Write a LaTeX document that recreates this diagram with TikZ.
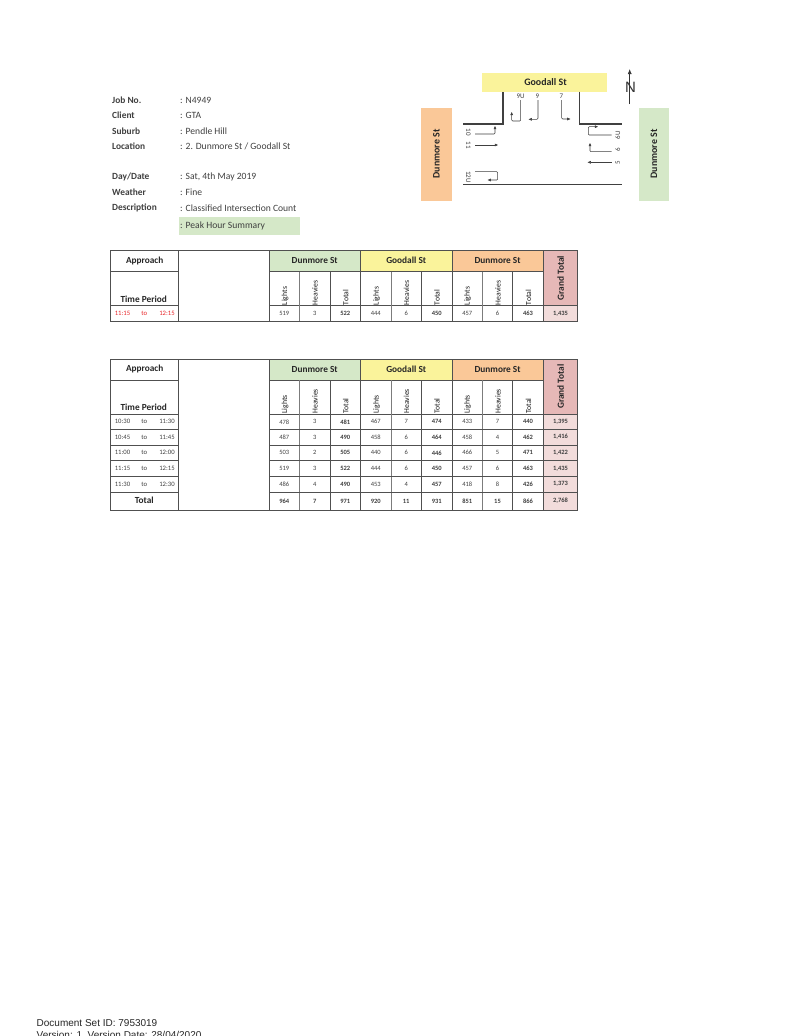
\documentclass[tikz,border=0pt]{standalone}
\usepackage{fontspec}
\setmainfont{Carlito}
\newfontfamily\docfont{Liberation Sans}
\usetikzlibrary{arrows.meta}
\definecolor{cgreen}{HTML}{D5E8C8}
\definecolor{cyellow}{HTML}{FAF39B}
\definecolor{corange}{HTML}{FAC898}
\definecolor{cpink}{HTML}{E6B8B7}
\definecolor{clpink}{HTML}{F2DCDB}
\definecolor{cgrid}{HTML}{505050}
\definecolor{ctext}{HTML}{404040}
\definecolor{cred}{HTML}{E8262A}
\tikzset{
  x=1pt,y=-1pt,
  info/.style={font=\fontsize{9.6}{10}\selectfont,text=ctext,anchor=west,inner sep=0pt},
  infob/.style={font=\fontsize{9.4}{10}\selectfont\bfseries,text=ctext,anchor=west,inner sep=0pt},
  head/.style={font=\fontsize{9.3}{10}\selectfont\bfseries,text=black!85,inner sep=0pt},
  headlarge/.style={font=\fontsize{9.9}{10}\selectfont\bfseries,text=black!85,inner sep=0pt},
  sub/.style={font=\fontsize{7.7}{8}\selectfont,text=black!90,rotate=90,anchor=west,inner sep=0pt},
  val/.style={font=\fontsize{6.5}{7}\selectfont,text=ctext,inner sep=0pt},
  valb/.style={font=\fontsize{6.5}{7}\selectfont\bfseries,text=ctext,inner sep=0pt},
  timetxt/.style={font=\fontsize{6.7}{7}\selectfont,text=ctext,inner sep=0pt},
  road/.style={draw=black!75,line width=1.4pt},
  mv/.style={draw=black!75,line width=0.55pt,rounded corners=1pt,-{Latex[length=3.5pt,width=3pt]}},
  lane/.style={font=\fontsize{7}{7}\selectfont,text=ctext,inner sep=0pt},
  gridthick/.style={draw=cgrid,line width=1pt},
  gridthin/.style={draw=cgrid!75,line width=0.7pt},
  vs1/.style={val},vs2/.style={val},vs3/.style={valb},
  vs4/.style={val},vs5/.style={val},vs6/.style={valb},
  vs7/.style={val},vs8/.style={val},vs9/.style={valb},vs10/.style={valb},
  plain/.style={},
}
\newcommand{\inforow}[4]{%
  \node[infob] (lab#1) at (112,#2) {#3};
  \node[info] (txt#1) at (180,#2) {#4};}
% prefix, y top
\newcommand{\tablehead}[2]{%
  \fill[cgreen] (269,#2) rectangle (360.5,#2+21);
  \fill[cyellow] (360.5,#2) rectangle (452,#2+21);
  \fill[corange] (452,#2) rectangle (543.3,#2+21);
  \fill[cpink] (543.3,#2) rectangle (577.7,#2+55);
  \node[head] (#1appr) at (144.7,#2+10) {Approach};
  \node[head] (#1time) at (143.7,#2+48.3) {Time Period};
  \node[head] (#1d1) at (314.7,#2+10) {Dunmore St};
  \node[head] (#1g) at (406.2,#2+10) {Goodall St};
  \node[head] (#1d2) at (497.6,#2+10) {Dunmore St};
  \node[head,rotate=90] (#1gt) at (560.7,#2+27.5) {Grand Total};
  \foreach \sx/\st/\k in {285/Lights/a,315/Heavies/b,345.7/Total/c,376.5/Lights/d,406.5/Heavies/e,437/Total/f,467.5/Lights/g,498/Heavies/h,528.5/Total/i}
    \node[sub] (#1s\k) at (\sx,#2+54.5) {\st};
}
% prefix, y centre, extra style, values
\newcommand{\datarow}[4]{%
  \foreach \v [count=\i] in {#4} {
    \pgfmathsetmacro{\cx}{{284.2,314.7,345.2,375.7,406.2,436.7,467.2,497.5,528,560.5}[\i-1]}
    \node[vs\i,#3] (#1c\i) at (\cx,#2) {\v};
  }}
\newcommand{\timerow}[5]{%
  \node[timetxt,#5] (#1t1) at (122.5,#2) {#3};
  \node[timetxt,#5] (#1t2) at (144.3,#2) {to};
  \node[timetxt,#5] (#1t3) at (167,#2) {#4};}
% y top, y header bottom, y bottom
\newcommand{\tablegrid}[3]{%
  \draw[gridthick] (110,#1) rectangle (577.7,#3);
  \draw[gridthick] (178,#1) -- (178,#3);
  \draw[gridthick] (269,#1) -- (269,#3);
  \draw[gridthick] (543.3,#1) -- (543.3,#3);
  \draw[gridthick] (360.5,#1) -- (360.5,#3);
  \draw[gridthick] (452,#1) -- (452,#3);
  \draw[gridthick] (110,#1+21) -- (178,#1+21);
  \draw[gridthick] (269,#1+21) -- (543.3,#1+21);
  \draw[gridthick] (110,#2) -- (178,#2);
  \draw[gridthick] (269,#2) -- (577.7,#2);
  \foreach \gx in {330,421.5,512.7} \draw[gridthick] (\gx,#1+21) -- (\gx,#3);
  \foreach \gx in {299.5,391,482.3} \draw[gridthin] (\gx,#1+21) -- (\gx,#3);
}
\begin{document}
\begin{tikzpicture}
\useasboundingbox (0,0) rectangle (796,1036);
\clip (0,0) rectangle (796,1036);
\fill[white] (0,0) rectangle (796,1036);
% info block
\fill[cgreen] (178.5,217) rectangle (299.5,235);
\inforow{a}{100}{Job No.}{: N4949}
\inforow{b}{115.5}{Client}{: GTA}
\inforow{c}{131}{Suburb}{: Pendle Hill}
\inforow{d}{146.5}{Location}{: 2. Dunmore St / Goodall St}
\inforow{e}{177}{Day/Date}{: Sat, 4th May 2019}
\inforow{f}{192.5}{Weather}{: Fine}
\inforow{g}{208}{Description}{: Classified Intersection Count}
\node[info] (txth) at (180,226) {: Peak Hour Summary};
% diagram
\fill[cyellow] (482.3,73.3) rectangle (607.3,91.7);
\node[headlarge] (goodall) at (545.5,82.5) {Goodall St};
\fill[corange] (421.3,107.7) rectangle (451.7,200.5);
\node[headlarge,rotate=90] (dunw) at (436.5,154) {Dunmore St};
\fill[cgreen] (638.7,108) rectangle (669,200.5);
\node[headlarge,rotate=90] (dune) at (654,154) {Dunmore St};
\draw[road] (463.3,124) -- (503,124) -- (503,91.7);
\draw[road] (579.3,91.7) -- (579.3,124) -- (621.7,124);
\draw[road] (463.3,184.3) -- (621.7,184.3);
% north
\coordinate (ns) at (629.7,104);
\coordinate (nn) at (629.7,69);
\draw[draw=black!80,line width=0.7pt,-{Latex[length=5pt,width=4pt]}] (ns) -- (nn);
\node[font=\fontsize{15}{15}\selectfont\docfont,text=black!80,inner sep=0pt] (north) at (630.5,87) {N};
% lane labels
\node[lane] (l9u) at (520.7,96) {9U};
\node[lane] (l9) at (537.5,96) {9};
\node[lane] (l7) at (561.5,96) {7};
\node[lane,rotate=-90] (l10) at (468.3,132) {10};
\node[lane,rotate=-90] (l11) at (468.3,145) {11};
\node[lane,rotate=-90] (l12u) at (468.3,177) {12U};
\node[lane,rotate=90] (l6u) at (617.7,135) {6U};
\node[lane,rotate=90] (l6) at (617.7,150) {6};
\node[lane,rotate=90] (l5) at (617.7,162.3) {5};
% movement ends
\coordinate (e9u) at (511.7,111.7);
\coordinate (e9) at (528.3,119.3);
\coordinate (e7) at (570.7,119);
\coordinate (e10) at (495,125.7);
\coordinate (e11) at (498.3,145);
\coordinate (e12u) at (487.3,180);
\coordinate (e6u) at (598.3,126.7);
\coordinate (e6) at (590,142.7);
\coordinate (e5) at (587.3,162.3);
\draw[mv] (520.7,100) -- (520.7,121) -- (511.7,121) -- (e9u);
\draw[mv] (538,100) -- (538,119.3) -- (e9);
\draw[mv] (561.7,100) -- (561.7,119) -- (e7);
\draw[mv] (475,134) -- (495,134) -- (e10);
\draw[mv] (475,145) -- (e11);
\draw[mv] (475,171.7) -- (497.7,171.7) -- (497.7,180) -- (e12u);
\draw[mv] (611.7,135) -- (588.3,135) -- (588.3,126.7) -- (e6u);
\draw[mv] (611.7,151.7) -- (590,151.7) -- (e6);
\draw[mv] (611.7,162.3) -- (e5);
% table 1
\fill[clpink] (543.3,305.7) rectangle (577.7,321);
\tablehead{p}{250.7}
\timerow{pr}{313.5}{11:15}{12:15}{text=cred}
\datarow{pr}{313.5}{plain}{519,3,522,444,6,450,457,6,463,{1,435}}
\tablegrid{250.7}{305.7}{321}
% table 2
\fill[clpink] (543.3,414) rectangle (577.7,510);
\tablehead{q}{359}
\timerow{r1}{421.8}{10:30}{11:30}{plain}
\datarow{r1}{421.8}{plain}{478,3,481,467,7,474,433,7,440,{1,395}}
\timerow{r2}{437.2}{10:45}{11:45}{plain}
\datarow{r2}{437.2}{plain}{487,3,490,458,6,464,458,4,462,{1,416}}
\timerow{r3}{452.8}{11:00}{12:00}{plain}
\datarow{r3}{452.8}{plain}{503,2,505,440,6,446,466,5,471,{1,422}}
\timerow{r4}{468.7}{11:15}{12:15}{plain}
\datarow{r4}{468.7}{plain}{519,3,522,444,6,450,457,6,463,{1,435}}
\timerow{r5}{484.3}{11:30}{12:30}{plain}
\datarow{r5}{484.3}{plain}{486,4,490,453,4,457,418,8,426,{1,373}}
\node[head] (totallab) at (144.3,500.7) {Total};
\datarow{r6}{501}{valb}{964,7,971,920,11,931,851,15,866,{2,768}}
\tablegrid{359}{414}{510}
\foreach \ry in {429.3,445,460.7,476.7,492} {
  \draw[gridthick,line width=0.8pt] (110,\ry) -- (178,\ry);
  \draw[gridthick,line width=0.8pt] (269,\ry) -- (577.7,\ry);
}
% footer
\node[font=\fontsize{10}{10}\selectfont\docfont,text=black!85,anchor=base west,inner sep=0pt] (doc1) at (36.5,1026) {Document Set ID: 7953019};
\node[font=\fontsize{10}{10}\selectfont\docfont,text=black!85,anchor=base west,inner sep=0pt] (doc2) at (36.5,1038.5) {Version: 1, Version Date: 28/04/2020};
\end{tikzpicture}
\end{document}
